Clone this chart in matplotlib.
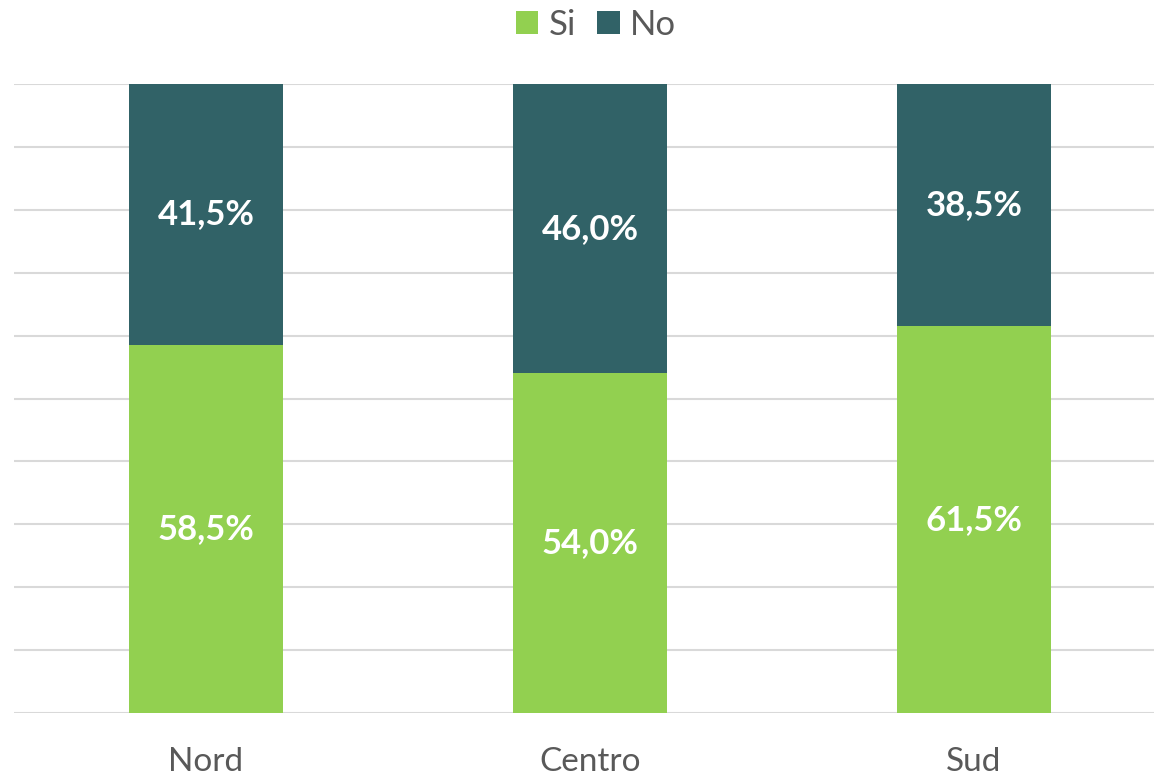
import numpy as np
import matplotlib
matplotlib.use('Agg')
import matplotlib.pyplot as plt
import matplotlib.patches as mpatches

# dati
categorie = ['Nord', 'Centro', 'Sud']
si = [58.5, 54.0, 61.5]
no = [41.5, 46.0, 38.5]

plt.rcParams['font.family'] = ['Lato', 'DejaVu Sans']

col_si = '#92D050'
col_no = '#316267'
col_testo = '#595959'

fig = plt.figure(figsize=(11.54, 7.76), dpi=100, facecolor='white')
ax = fig.add_axes([14 / 1154, 63 / 776, 1 - 14 / 1154, (713 - 84) / 776])

x = np.arange(len(categorie))
larghezza = 0.4
ax.bar(x, si, larghezza, color=col_si, zorder=3, label='Si')
ax.bar(x, no, larghezza, bottom=si, color=col_no, zorder=3, label='No')

# etichette dentro le barre
for i in range(len(categorie)):
    ax.text(x[i], si[i] / 2, f'{si[i]:.1f}%'.replace('.', ','), ha='center', va='center',
            color='white', fontsize=25, fontweight='bold', zorder=4)
    ax.text(x[i], si[i] + no[i] / 2, f'{no[i]:.1f}%'.replace('.', ','), ha='center', va='center',
            color='white', fontsize=25, fontweight='bold', zorder=4)

ax.set_ylim(0, 100)
ax.set_xlim(-0.5, 2.5 - 12 / 384)
ax.set_yticks(np.arange(0, 101, 10))
ax.yaxis.grid(True, color='#d9d9d9', linewidth=1.5, zorder=0)
ax.tick_params(axis='y', left=False, labelleft=False)
ax.tick_params(axis='x', bottom=False, labelsize=24, labelcolor=col_testo, pad=21)
ax.set_xticks(x)
ax.set_xticklabels(categorie)
for s in ax.spines.values():
    s.set_visible(False)

# legenda in alto
handles = [mpatches.Patch(facecolor=col_si, edgecolor='none', label='Si'),
           mpatches.Patch(facecolor=col_no, edgecolor='none', label='No')]
leg = fig.legend(handles=handles, loc='center', bbox_to_anchor=(596 / 1154, 1 - 25 / 776), ncol=2,
                 frameon=False, fontsize=25, handlelength=0.65, handleheight=0.65,
                 handletextpad=0.3, columnspacing=0.6)
for t in leg.get_texts():
    t.set_color(col_testo)

plt.savefig('out.png', dpi=100, facecolor='white')
